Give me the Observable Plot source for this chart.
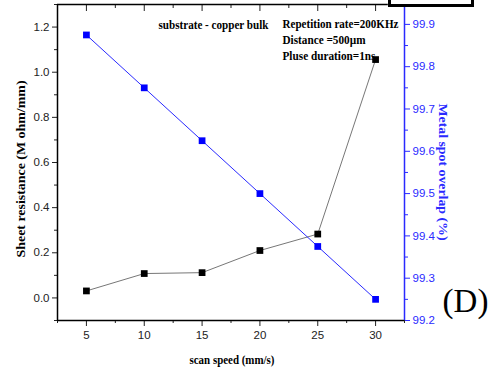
<!DOCTYPE html>
<html><head><meta charset="utf-8">
<script src="https://cdn.jsdelivr.net/npm/d3@7"></script>
<script src="https://cdn.jsdelivr.net/npm/@observablehq/plot@0.6"></script>
<style>
body{margin:0;background:#fff;}
#wrap{position:relative;width:489px;height:369px;}
#box{position:absolute;left:388px;top:-4px;width:80px;height:5px;border:3px solid #000;background:#fff;}
</style>
</head><body>
<div id="wrap"><div id="chart"></div><div id="box"></div></div>
<script>
const speed = [5, 10, 15, 20, 25, 30];
const resistance = [0.031, 0.108, 0.112, 0.21, 0.283, 1.056];
const overlap = [99.875, 99.75, 99.625, 99.5, 99.375, 99.25];
const xTicks = [5, 10, 15, 20, 25, 30];
const xMinor = [2.5, 7.5, 12.5, 17.5, 22.5, 27.5, 32.5];
const leftTicks = [0, 0.2, 0.4, 0.6, 0.8, 1.0, 1.2];
const leftMinor = [-0.1, 0.1, 0.3, 0.5, 0.7, 0.9, 1.1, 1.3];
const rightTicks = [99.2, 99.3, 99.4, 99.5, 99.6, 99.7, 99.8, 99.9];
const rightMinor = [99.25, 99.35, 99.45, 99.55, 99.65, 99.75, 99.85];
const annotations = ["substrate - copper bulk", "Repetition rate=200KHz", "Distance =500\u00b5m", "Pluse duration=1ns"];
const xTitle = "scan speed (mm/s)";
const leftTitle = "Sheet resistance (M ohm/mm)";
const rightTitle = "Metal spot overlap (%)";
const panelLabel = "(D)";

const leftDomain = [-0.1, 1.3];
const rightDomain = [99.2, 99.947];
const toLeft = v => leftDomain[0] + (v - rightDomain[0]) / (rightDomain[1] - rightDomain[0]) * (leftDomain[1] - leftDomain[0]);
const fromLeft = v => rightDomain[0] + (v - leftDomain[0]) / (leftDomain[1] - leftDomain[0]) * (rightDomain[1] - rightDomain[0]);

const blackData = speed.map((s, i) => ({s, v: resistance[i]}));
const blueData = speed.map((s, i) => ({s, v: toLeft(overlap[i])}));
const BLUE = "#2a2aff";
const serif = "Liberation Serif, Times New Roman, serif";
const ann = {frameAnchor: "top-left", textAnchor: "start", fontFamily: serif, fontWeight: "bold", fontSize: 12.5, fill: "#000"};
const ttl = {fontFamily: serif, fontWeight: "bold", fontSize: 12.5, textAnchor: "middle"};

// condensed widths of the serif labels, as measured on the reference
const fitWidths = new Map([
  [annotations[0], 110], [annotations[1], 116], [annotations[2], 83], [annotations[3], 93],
  [xTitle, 85], [leftTitle, 177], [rightTitle, 137]
]);

const chart = Plot.plot({
  width: 489, height: 369,
  marginLeft: 57, marginRight: 85, marginTop: 4, marginBottom: 49,
  style: {fontFamily: "Liberation Sans, Arial, sans-serif", fontSize: "11.5px", background: "#fff"},
  x: {domain: [2.5, 32.5]},
  y: {domain: leftDomain},
  marks: [
    Plot.axisX(xTicks, {anchor: "bottom", tickSize: 6, tickPadding: 4, label: null, tickFormat: d => String(d), color: "#222"}),
    Plot.axisX(xMinor, {anchor: "bottom", tickSize: 3, label: null, tickFormat: () => "", color: "#222"}),
    Plot.axisX(xTicks, {anchor: "top", tickSize: -6, label: null, tickFormat: () => "", color: "#222"}),
    Plot.axisX(xMinor, {anchor: "top", tickSize: -3, label: null, tickFormat: () => "", color: "#222"}),
    Plot.axisY(leftTicks, {anchor: "left", tickSize: 5, tickPadding: 3, label: null, tickFormat: d => d.toFixed(1), color: "#222"}),
    Plot.axisY(leftMinor, {anchor: "left", tickSize: 3, label: null, tickFormat: () => "", color: "#222"}),
    Plot.axisY(rightTicks.map(toLeft), {anchor: "right", tickSize: 5, tickPadding: 3, label: null, tickFormat: d => fromLeft(d).toFixed(1), color: BLUE}),
    Plot.axisY(rightMinor.map(toLeft), {anchor: "right", tickSize: 3, label: null, tickFormat: () => "", color: BLUE}),
    Plot.ruleX([2.5], {stroke: "#000", strokeWidth: 1.5}),
    Plot.ruleY([-0.1], {stroke: "#000", strokeWidth: 1.5}),
    Plot.ruleY([1.3], {x1: 2.5, x2: 31.1, stroke: "#000", strokeWidth: 1.5}),
    Plot.ruleX([32.5], {stroke: BLUE, strokeWidth: 1.5}),
    Plot.line(blackData, {x: "s", y: "v", stroke: "#777", strokeWidth: 1}),
    Plot.dot(blackData, {x: "s", y: "v", symbol: "square", r: 3.8, fill: "#000", stroke: "none"}),
    Plot.line(blueData, {x: "s", y: "v", stroke: BLUE, strokeWidth: 1}),
    Plot.dot(blueData, {x: "s", y: "v", symbol: "square", r: 3.8, fill: "#0000ff", stroke: "none"}),
    Plot.text([annotations[0]], {...ann, dx: 101, dy: 16}),
    Plot.text([annotations[1]], {...ann, dx: 225, dy: 15}),
    Plot.text([annotations[2]], {...ann, dx: 225, dy: 31}),
    Plot.text([annotations[3]], {...ann, dx: 225, dy: 47}),
    Plot.text([xTitle], {...ttl, frameAnchor: "bottom", dx: 1, dy: 43, fill: "#000"}),
    Plot.text([leftTitle], {...ttl, frameAnchor: "left", dx: -37, dy: 6.5, rotate: -90, fill: "#000"}),
    Plot.text([rightTitle], {...ttl, frameAnchor: "right", dx: 38.5, dy: 9.5, rotate: 90, fill: BLUE}),
    Plot.text([panelLabel], {frameAnchor: "bottom-right", textAnchor: "middle", dx: 61, dy: -9, fontFamily: serif, fontSize: 33, fill: "#000"})
  ]
});
d3.select(chart).selectAll("text").each(function() {
  const len = fitWidths.get(this.textContent);
  if (len) d3.select(this).attr("textLength", len).attr("lengthAdjust", "spacingAndGlyphs");
});
document.getElementById("chart").appendChild(chart);
</script>
</body></html>
